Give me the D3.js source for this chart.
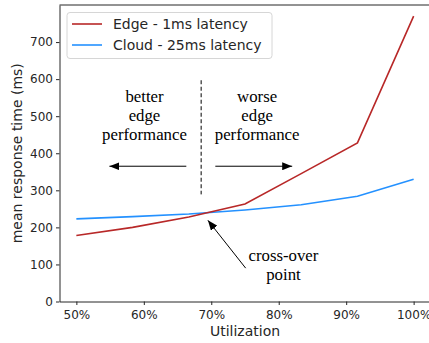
<!DOCTYPE html>
<html>
<head>
<meta charset="utf-8">
<script src="https://cdn.jsdelivr.net/npm/d3@7"></script>
<style>
  body { margin: 0; background: #fff; }
  svg { display: block; }
</style>
</head>
<body>
<div id="chart"></div>
<script>
// utilization (%) for each measurement
const utilization = [50, 58.33, 66.67, 75, 83.33, 91.67, 100];
const edgeTimes = [178, 200, 228, 263, 345, 428, 770];
const cloudTimes = [223, 229, 236, 247, 261, 284, 330];
const seriesNames = ["Edge - 1ms latency", "Cloud - 25ms latency"];
const xTicks = [50, 60, 70, 80, 90, 100];
const yTicks = [0, 100, 200, 300, 400, 500, 600, 700];

const width = 429, height = 343;
const plotLeft = 59.5, plotTop = 5, plotBottom = 301.5, plotRight = 430.5;
const edgeColor = "#b82828";
const cloudColor = "#2491ff";
const axisColor = "#262626";
const serif = "'Liberation Serif', 'DejaVu Serif', serif";
const sans = "'DejaVu Sans', sans-serif";

const svg = d3.select("#chart").append("svg")
    .attr("width", width)
    .attr("height", height);

const x = d3.scaleLinear().domain([47.5, 102.5]).range([plotLeft, plotRight]);
const y = d3.scaleLinear().domain([0, 800]).range([plotBottom, plotTop]);

svg.append("defs").append("marker")
    .attr("id", "head")
    .attr("viewBox", "0 0 10 8")
    .attr("refX", 10).attr("refY", 4)
    .attr("markerWidth", 10).attr("markerHeight", 8)
    .attr("markerUnits", "userSpaceOnUse")
    .attr("orient", "auto")
  .append("path")
    .attr("d", "M0,0 L10,4 L0,8 Z")
    .attr("fill", "#000");

// series lines
const line = d3.line().x((d, i) => x(utilization[i])).y(d => y(d));
svg.append("path").datum(cloudTimes)
    .attr("d", line).attr("fill", "none")
    .attr("stroke", cloudColor).attr("stroke-width", 1.6);
svg.append("path").datum(edgeTimes)
    .attr("d", line).attr("fill", "none")
    .attr("stroke", edgeColor).attr("stroke-width", 1.6);

// axes
const xAxis = svg.append("g")
    .attr("transform", `translate(0,${plotBottom})`)
    .call(d3.axisBottom(x).tickValues(xTicks).tickFormat(d => d + "%").tickSize(3.5).tickSizeOuter(0));
const yAxis = svg.append("g")
    .attr("transform", `translate(${plotLeft},0)`)
    .call(d3.axisLeft(y).tickValues(yTicks).tickSize(3.5).tickSizeOuter(0));
[xAxis, yAxis].forEach(g => {
  g.select(".domain").attr("stroke", axisColor).attr("stroke-width", 1);
  g.selectAll(".tick line").attr("stroke", axisColor);
  g.selectAll(".tick text").attr("fill", axisColor)
      .style("font-family", sans).style("font-size", "12px");
});
xAxis.selectAll(".tick text").attr("dy", "0.9em");
svg.append("line")
    .attr("x1", plotLeft).attr("x2", plotRight).attr("y1", plotTop).attr("y2", plotTop)
    .attr("stroke", axisColor).attr("stroke-width", 1);

svg.append("text")
    .attr("x", (plotLeft + plotRight) / 2).attr("y", 336)
    .attr("text-anchor", "middle")
    .style("font-family", sans).style("font-size", "14px").attr("fill", axisColor)
    .text("Utilization");
svg.append("text")
    .attr("transform", `translate(21.5,${(plotTop + plotBottom) / 2}) rotate(-90)`)
    .attr("text-anchor", "middle")
    .style("font-family", sans).style("font-size", "14px").attr("fill", axisColor)
    .text("mean response time (ms)");

// annotations
svg.append("line")
    .attr("x1", x(68.5)).attr("x2", x(68.5))
    .attr("y1", y(597)).attr("y2", y(289))
    .attr("stroke", "#000").attr("stroke-width", 1)
    .attr("stroke-dasharray", "4,2.5");

const arrows = [
  { from: [66.3, 365], to: [54.9, 365] },
  { from: [70.6, 365], to: [82.0, 365] },
  { from: [75.1, 90], to: [69.5, 219] }
];
svg.selectAll(".arrow").data(arrows).enter().append("line")
    .attr("class", "arrow")
    .attr("x1", d => x(d.from[0])).attr("y1", d => y(d.from[1]))
    .attr("x2", d => x(d.to[0])).attr("y2", d => y(d.to[1]))
    .attr("stroke", "#000").attr("stroke-width", 1)
    .attr("marker-end", "url(#head)");

const notes = [
  { at: [60.1, 539], lines: ["better", "edge", "performance"] },
  { at: [76.8, 539], lines: ["worse", "edge", "performance"] },
  { at: [80.7, 109], lines: ["cross-over", "point"] }
];
notes.forEach(n => {
  const t = svg.append("text")
      .attr("x", x(n.at[0])).attr("y", y(n.at[1]))
      .attr("text-anchor", "middle")
      .style("font-family", serif).style("font-size", "16.8px").attr("fill", "#000");
  n.lines.forEach((s, i) => {
    t.append("tspan").attr("x", x(n.at[0])).attr("dy", i ? 19 : 0).text(s);
  });
});

// legend
const legend = svg.append("g");
legend.append("rect")
    .attr("x", 67).attr("y", 12.5).attr("width", 205).attr("height", 46)
    .attr("rx", 3).attr("fill", "#fff").attr("fill-opacity", 0.8)
    .attr("stroke", "#d6d6d6").attr("stroke-width", 1);
const items = legend.selectAll(".item")
    .data(seriesNames.map((name, i) => ({ name, color: [edgeColor, cloudColor][i] })))
    .enter().append("g")
    .attr("class", "item")
    .attr("transform", (d, i) => `translate(72,${24 + i * 21})`);
items.append("line")
    .attr("x1", 0).attr("x2", 30)
    .attr("stroke", d => d.color).attr("stroke-width", 1.6);
items.append("text")
    .attr("x", 41).attr("dy", "0.38em")
    .style("font-family", sans).style("font-size", "14px").attr("fill", axisColor)
    .text(d => d.name);
</script>
</body>
</html>
